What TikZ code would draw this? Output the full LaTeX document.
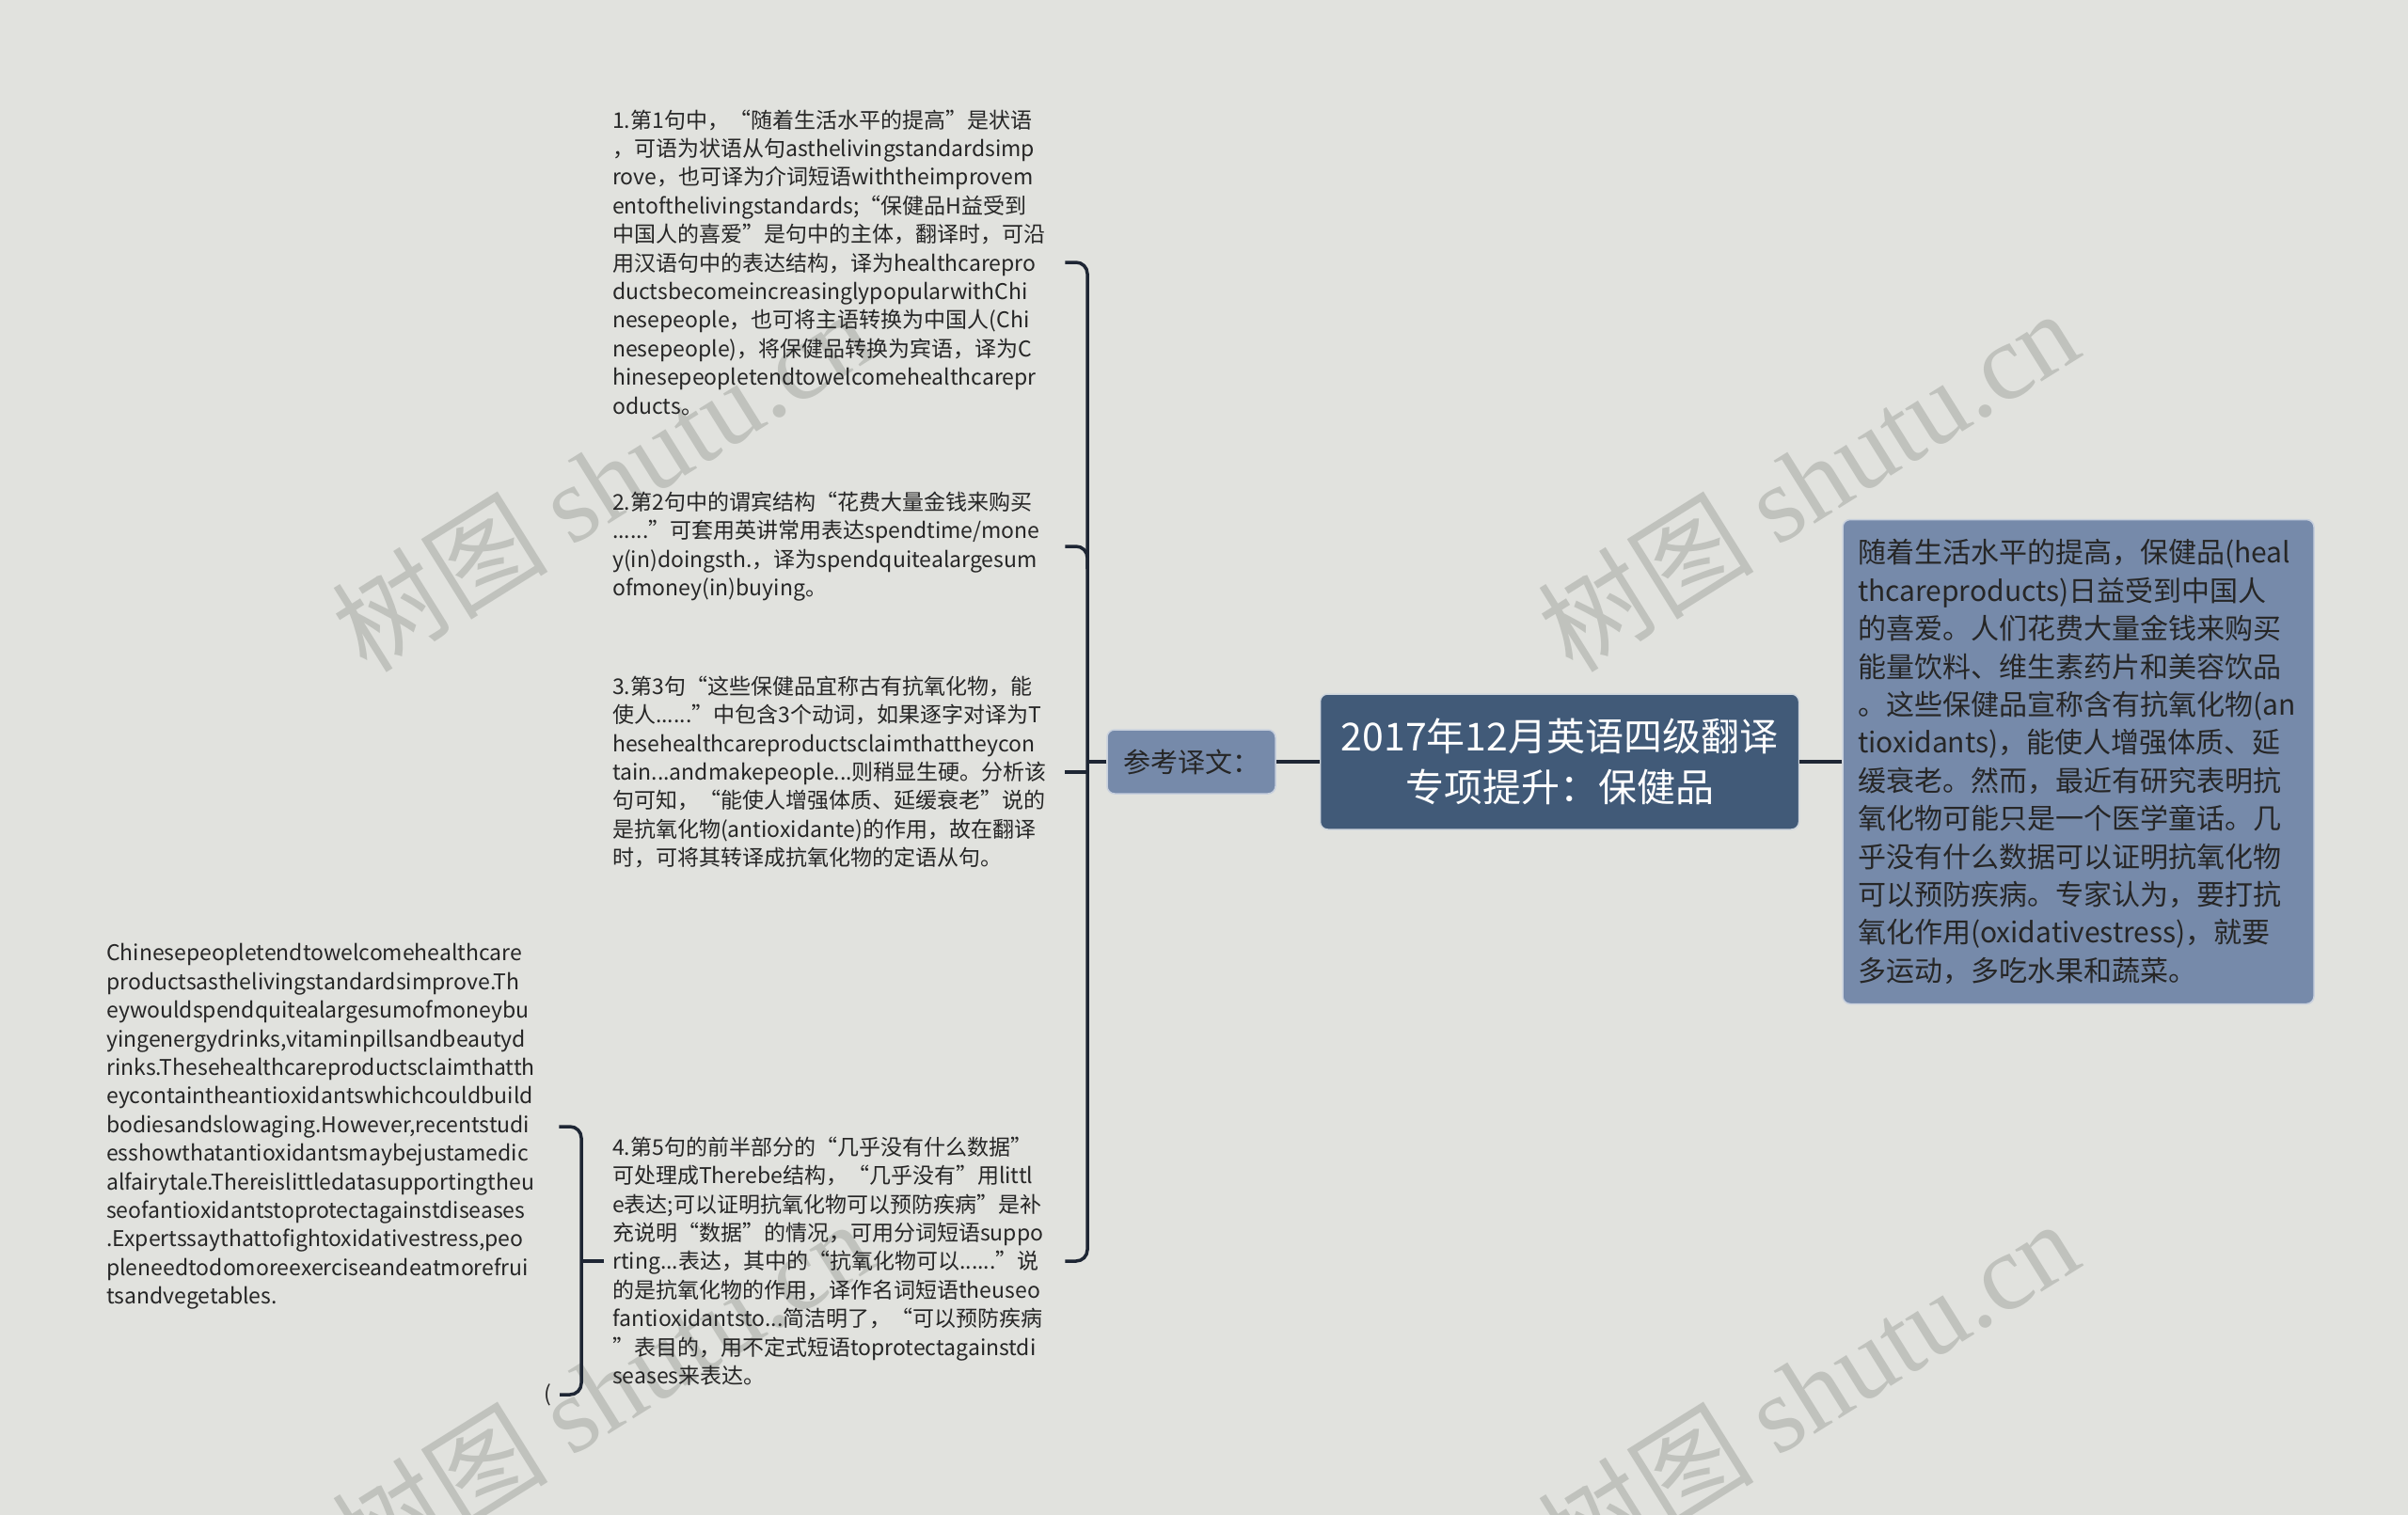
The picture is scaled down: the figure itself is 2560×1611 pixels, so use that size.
\documentclass[tikz,border=0pt]{standalone}
\usepackage{fontspec}
\setmainfont{Noto Sans CJK SC}
\newfontfamily\wmserif{Liberation Serif}
\usepackage{tikz}
\usetikzlibrary{positioning}
\definecolor{bgcol}{HTML}{E1E2DE}
\definecolor{maincol}{HTML}{415A78}
\definecolor{subcol}{HTML}{768AAA}
\definecolor{linkcol}{HTML}{1E2634}
\definecolor{notecol}{HTML}{262626}
\definecolor{wmcol}{HTML}{C0C2BD}
\hyphenpenalty=10000
\exhyphenpenalty=10000

\begin{document}
\begin{tikzpicture}[x=1pt,y=-1pt,
		link/.style={draw=linkcol,line width=3.5pt,rounded corners=12pt},
		notefont/.style={text=notecol,font=\fontsize{23}{30.4}\selectfont},
		note/.style={notefont,align=left,text width=472pt,inner xsep=9pt,inner ysep=0pt},
		mainbox/.style={fill=maincol,draw=white!75!maincol,line width=1.5pt,rounded corners=8pt,text=white,align=center,minimum width=509pt,minimum height=144pt,font=\fontsize{41}{54}\selectfont},
		subbox/.style={fill=subcol,draw=white!60!subcol,line width=1.5pt,rounded corners=8pt,text=notecol},
		wmark/.style={text=wmcol,font=\fontsize{115}{115}\selectfont,rotate=32}]
	\useasboundingbox[fill=bgcol] (0,0) rectangle (2560,1611);

	% watermarks
	\node[wmark] (wm1) at (640,510) {树图 {\wmserif shutu.cn}};
	\node[wmark] (wm2) at (1922,510) {树图 {\wmserif shutu.cn}};
	\node[wmark] (wm3) at (640,1478) {树图 {\wmserif shutu.cn}};
	\node[wmark] (wm4) at (1922,1478) {树图 {\wmserif shutu.cn}};

	% centre, label and text
	\node[mainbox] (main) at (1658,810) {2017年12月英语四级翻译\\专项提升：保健品};
	\node[subbox,minimum width=179pt,minimum height=68pt,font=\fontsize{29}{32}\selectfont,left=46pt of main] (ref) {参考译文：};
	\node[subbox,align=left,text width=469pt,inner xsep=16pt,inner ysep=20pt,minimum height=515pt,font=\fontsize{30}{40.4}\selectfont,right=45pt of main] (sum) {随着生活水平的提高，保健品(heal\\
		thcareproducts)日益受到中国人\\
		的喜爱。人们花费大量金钱来购买\\
		能量饮料、维生素药片和美容饮品\\
		。这些保健品宣称含有抗氧化物(an\\
		tioxidants)，能使人增强体质、延\\
		缓衰老。然而，最近有研究表明抗\\
		氧化物可能只是一个医学童话。几\\
		乎没有什么数据可以证明抗氧化物\\
		可以预防疾病。专家认为，要打抗\\
		氧化作用(oxidativestress)，就要\\
		多运动，多吃水果和蔬菜。};

	% notes
	\node[note,anchor=west] (n1) at (642,279) {1.第1句中，“随着生活水平的提高”是状语\\
		，可语为状语从句asthelivingstandardsimp\\
		rove，也可译为介词短语withtheimprovem\\
		entofthelivingstandards;“保健品H益受到\\
		中国人的喜爱”是句中的主体，翻译时，可沿\\
		用汉语句中的表达结构，译为healthcarepro\\
		ductsbecomeincreasinglypopularwithChi\\
		nesepeople，也可将主语转换为中国人(Chi\\
		nesepeople)，将保健品转换为宾语，译为C\\
		hinesepeopletendtowelcomehealthcarepr\\
		oducts。};
	\node[note,anchor=west] (n2) at (642,581) {2.第2句中的谓宾结构“花费大量金钱来购买\\
		......”可套用英讲常用表达spendtime/mone\\
		y(in)doingsth.，译为spendquitealargesum\\
		ofmoney(in)buying。};
	\node[note,anchor=west] (n3) at (642,821) {3.第3句“这些保健品宜称古有抗氧化物，能\\
		使人......”中包含3个动词，如果逐字对译为T\\
		hesehealthcareproductsclaimthattheycon\\
		tain...andmakepeople...则稍显生硬。分析该\\
		句可知，“能使人增强体质、延缓衰老”说的\\
		是抗氧化物(antioxidante)的作用，故在翻译\\
		时，可将其转译成抗氧化物的定语从句。};
	\node[note,anchor=west] (n4) at (642,1341) {4.第5句的前半部分的“几乎没有什么数据”\\
		可处理成Therebe结构，“几乎没有”用littl\\
		e表达;可以证明抗氧化物可以预防疾病”是补\\
		充说明“数据”的情况，可用分词短语suppo\\
		rting...表达，其中的“抗氧化物可以......”说\\
		的是抗氧化物的作用，译作名词短语theuseo\\
		fantioxidantsto...简洁明了，“可以预防疾病\\
		”表目的，用不定式短语toprotectagainstdi\\
		seases来表达。};
	\node[note,anchor=west] (en) at (104,1198) {Chinesepeopletendtowelcomehealthcare\\
		productsasthelivingstandardsimprove.Th\\
		eywouldspendquitealargesumofmoneybu\\
		yingenergydrinks,vitaminpillsandbeautyd\\
		rinks.Thesehealthcareproductsclaimthatth\\
		eycontaintheantioxidantswhichcouldbuild\\
		bodiesandslowaging.However,recentstudi\\
		esshowthatantioxidantsmaybejustamedic\\
		alfairytale.Thereislittledatasupportingtheu\\
		seofantioxidantstoprotectagainstdiseases\\
		.Expertssaythattofightoxidativestress,peo\\
		pleneedtodomoreexerciseandeatmorefrui\\
		tsandvegetables.};
	\node[notefont,inner xsep=9pt,anchor=east] (par) at (595,1483) {(};

	\coordinate (b1) at (1156,810);
	\coordinate (b2) at (618,1341);

	% connectors
	\draw[link] (sum) -- (main);
	\draw[link] (main) -- (ref);
	\draw[link] (ref.west) -- (b1);
	\draw[link] (n1.east) -| (b1) |- (n4.east);
	\draw[link] (n2.east) -| ([yshift=-24pt]n2.east -| b1);
	\draw[link] (n3.east) -- (n3.east -| b1);
	\draw[link] (n4.west) -- (b2);
	\draw[link] (en.east) -| (b2) |- (par.east);
\end{tikzpicture}
\end{document}
